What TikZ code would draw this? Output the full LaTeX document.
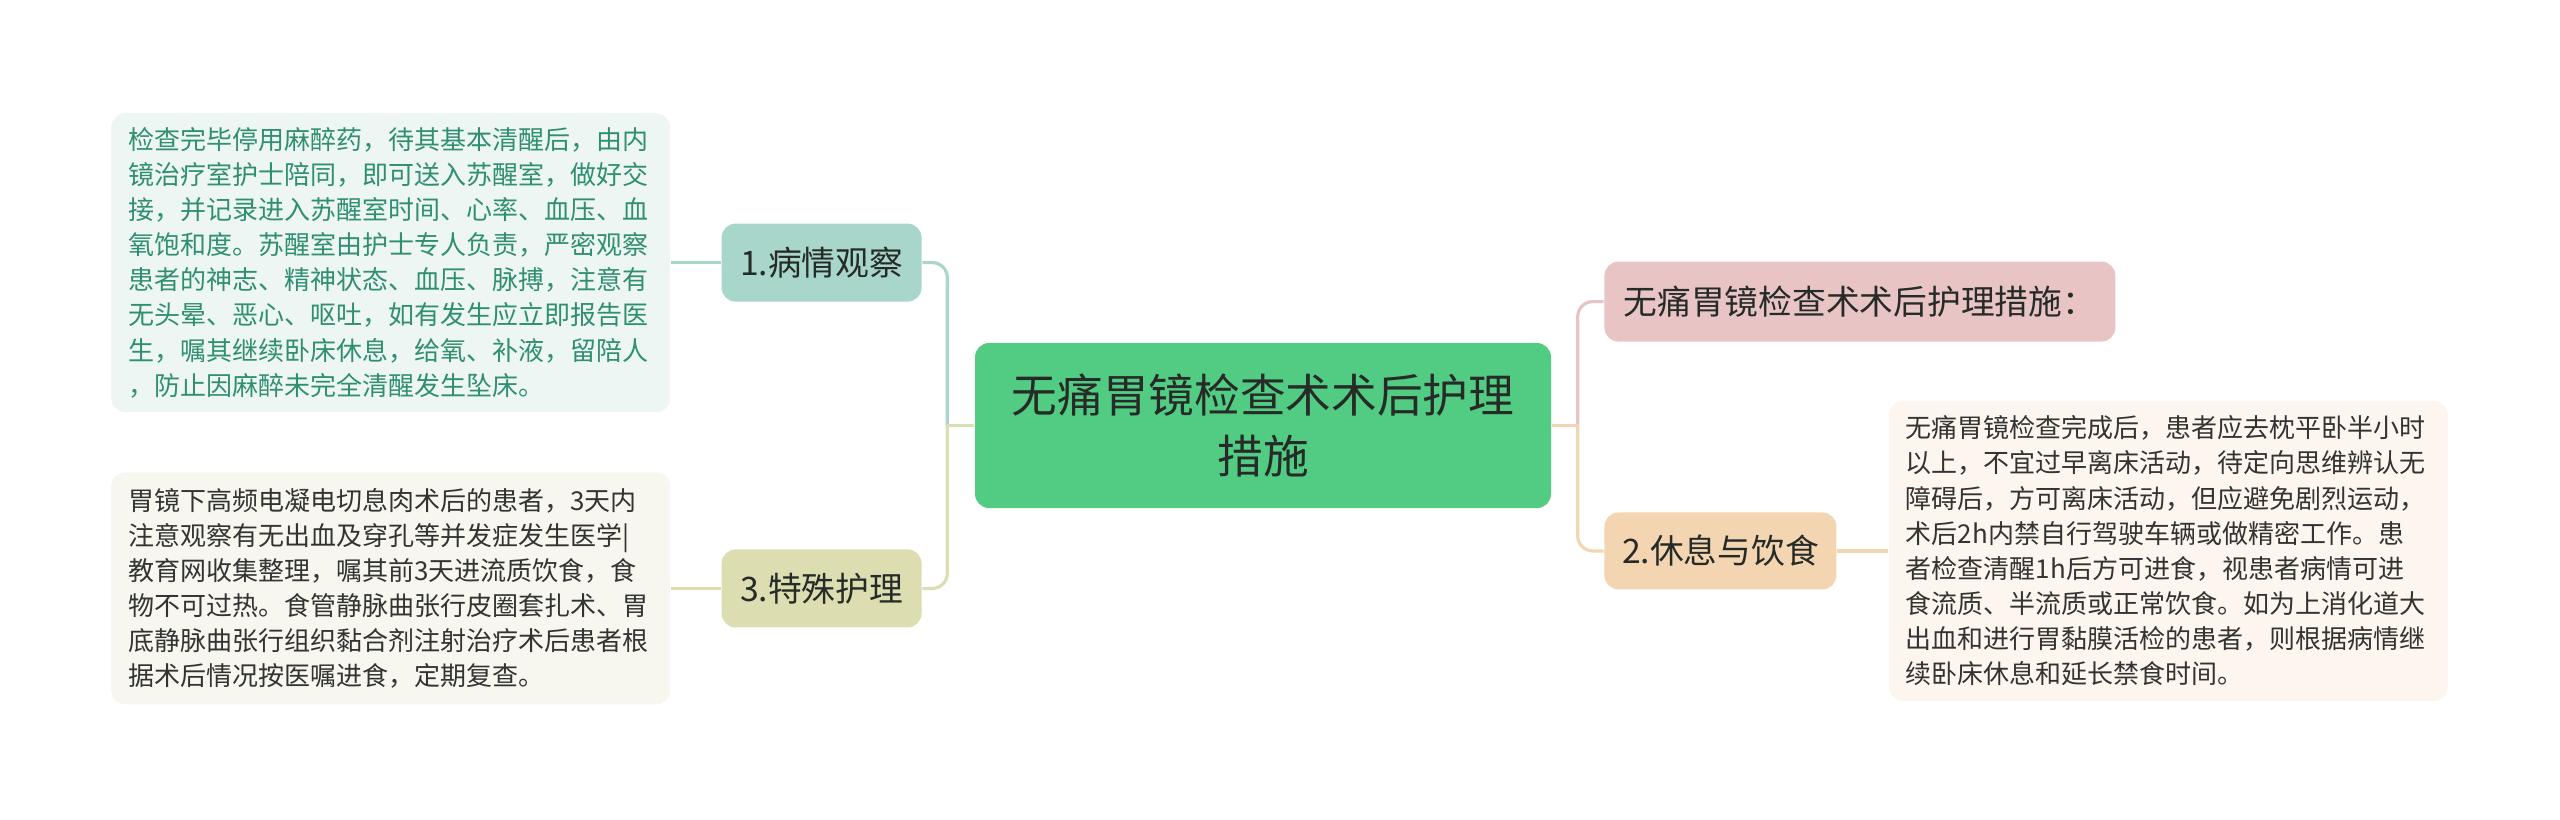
\documentclass[tikz,border=0pt]{standalone}
\usepackage{fontspec}
\setmainfont{Noto Sans CJK SC}
\usetikzlibrary{positioning}
\definecolor{topicfill}{HTML}{52CC83}
\definecolor{inkdark}{HTML}{262B28}
\definecolor{obsfill}{HTML}{A8D6CB}
\definecolor{obsnotefill}{HTML}{EEF6F4}
\definecolor{obstext}{HTML}{2F8F70}
\definecolor{specfill}{HTML}{DCDDB0}
\definecolor{specnotefill}{HTML}{F7F7EF}
\definecolor{sumfill}{HTML}{E8C4C4}
\definecolor{restfill}{HTML}{F4D5B2}
\definecolor{restnotefill}{HTML}{FDF6EF}
\definecolor{notetext}{HTML}{333333}

\begin{document}
\begin{tikzpicture}[
  topic/.style={fill=topicfill, rounded corners=4pt, minimum width=5.76cm, minimum height=1.65cm, align=center, font=\fontsize{13pt}{17.6pt}\selectfont, text=inkdark},
  branch/.style={rounded corners=4pt, minimum height=0.78cm, inner xsep=0.17cm, align=center, font=\fontsize{9.6pt}{12pt}\selectfont, text=inkdark},
  note/.style={rounded corners=4pt, text width=5.25cm, inner xsep=0.17cm, align=left, font=\fontsize{7.4pt}{10pt}\selectfont, text=notetext},
  link/.style={line width=0.9pt, rounded corners=0.15cm}
]
  \useasboundingbox (0,0) rectangle (25.6,-8.19);

  \node[topic] (root) at (12.63,-4.255) {无痛胃镜检查术术后护理\\措施};

  \node[branch, fill=obsfill, minimum width=2.0cm, above left=0.4cm and 0.52cm of root] (obs) {1.病情观察};
  \node[branch, fill=specfill, minimum width=2.0cm, below left=0.4cm and 0.52cm of root] (spec) {3.特殊护理};
  \node[branch, fill=sumfill, minimum width=5.11cm, minimum height=0.8cm, above right=0cm and 0.52cm of root] (summary) {无痛胃镜检查术术后护理措施：};
  \node[branch, fill=restfill, minimum width=2.32cm, minimum height=0.77cm, below right=0.03cm and 0.52cm of root] (rest) {2.休息与饮食};

  \node[note, fill=obsnotefill, text=obstext, minimum height=2.99cm, left=0.5cm of obs] (obsnote) {检查完毕停用麻醉药，待其基本清醒后，由内\\镜治疗室护士陪同，即可送入苏醒室，做好交\\接，并记录进入苏醒室时间、心率、血压、血\\氧饱和度。苏醒室由护士专人负责，严密观察\\患者的神志、精神状态、血压、脉搏，注意有\\无头晕、恶心、呕吐，如有发生应立即报告医\\生，嘱其继续卧床休息，给氧、补液，留陪人\\，防止因麻醉未完全清醒发生坠床。};
  \node[note, fill=specnotefill, minimum height=2.32cm, left=0.5cm of spec] (specnote) {胃镜下高频电凝电切息肉术后的患者，3天内\\注意观察有无出血及穿孔等并发症发生医学|\\教育网收集整理，嘱其前3天进流质饮食，食\\物不可过热。食管静脉曲张行皮圈套扎术、胃\\底静脉曲张行组织黏合剂注射治疗术后患者根\\据术后情况按医嘱进食，定期复查。};
  \node[note, fill=restnotefill, minimum height=3.0cm, right=0.51cm of rest] (restnote) {无痛胃镜检查完成后，患者应去枕平卧半小时\\以上，不宜过早离床活动，待定向思维辨认无\\障碍后，方可离床活动，但应避免剧烈运动，\\术后2h内禁自行驾驶车辆或做精密工作。患\\者检查清醒1h后方可进食，视患者病情可进\\食流质、半流质或正常饮食。如为上消化道大\\出血和进行胃黏膜活检的患者，则根据病情继\\续卧床休息和延长禁食时间。};

  \coordinate (lefthub) at ([xshift=-0.27cm]root.west);
  \coordinate (righthub) at ([xshift=0.26cm]root.east);

  \draw[link, obsfill] (lefthub) |- (obs.east);
  \draw[link, specfill] (lefthub) |- (spec.east);
  \draw[link, specfill] (root.west) -- (lefthub);
  \draw[link, sumfill] (righthub) |- (summary.west);
  \draw[link, restfill] (righthub) |- (rest.west);
  \draw[link, restfill] (root.east) -- (righthub);
  \draw[link, obsfill] (obs.west) -- (obsnote.east);
  \draw[link, specfill] (spec.west) -- (specnote.east);
  \draw[link, restfill] (rest.east) -- (restnote.west);
\end{tikzpicture}
\end{document}
